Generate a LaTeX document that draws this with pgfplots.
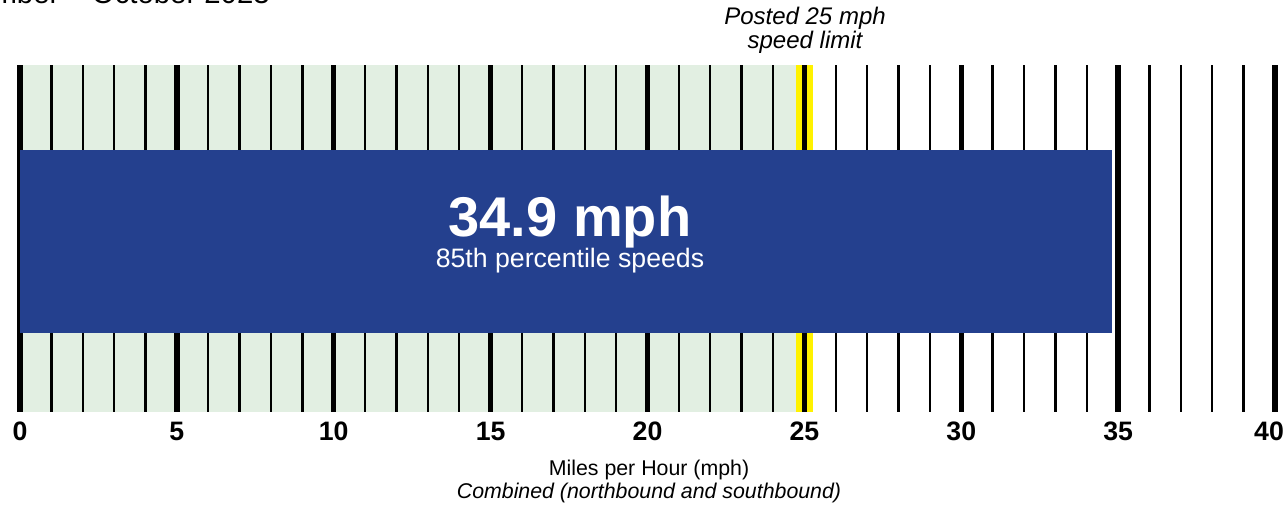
\documentclass[border=0pt]{standalone}
\usepackage{pgfplots}
\pgfplotsset{compat=1.18}
\usepackage{fontspec}
\setmainfont{Liberation Sans}
\definecolor{barblue}{RGB}{36,64,142}
\definecolor{lightgreen}{RGB}{226,239,226}
\definecolor{limityellow}{RGB}{255,242,0}
\begin{document}
\begin{tikzpicture}
\useasboundingbox (0,0) rectangle (966pt,379.5pt);
\clip (0,0) rectangle (966pt,379.5pt);
\node[anchor=base east, inner sep=0pt, font=\fontsize{22}{26}\selectfont] at (202.5pt,376.5pt) {September – October 2023};
\begin{axis}[
  at={(15pt,70.5pt)}, anchor=south west,
  scale only axis, width=941.25pt, height=260.25pt,
  xmin=0, xmax=40, ymin=0, ymax=1,
  axis line style={draw=none},
  tick style={draw=none},
  xtick={0,5,...,40}, ytick=\empty,
  xticklabels={0,5,10,15,20,25,30,35,\kern-9pt 40},
  /pgf/number format/assume math mode=true,
  xticklabel style={font=\fontsize{20}{24}\selectfont\bfseries, anchor=base, yshift=-21.75pt},
  clip=false,
]
\addplot[draw=none, fill=lightgreen] coordinates {(0,0)(24.72,0)(24.72,1)(0,1)} -- cycle;
\addplot[draw=none, fill=limityellow] coordinates {(24.72,0)(25.28,0)(25.28,1)(24.72,1)} -- cycle;
\addplot[ycomb, black, line width=1.8pt, mark=none] coordinates {
 (1,1)(2,1)(3,1)(4,1)(6,1)(7,1)(8,1)(9,1)(11,1)(12,1)(13,1)(14,1)
 (16,1)(17,1)(18,1)(19,1)(21,1)(22,1)(23,1)(24,1)(26,1)(27,1)(28,1)(29,1)
 (31,1)(32,1)(33,1)(34,1)(36,1)(37,1)(38,1)(39,1)};
\addplot[ycomb, black, line width=4pt, mark=none] coordinates {
 (0,1)(5,1)(10,1)(15,1)(20,1)(25,1)(30,1)(35,1)(40,1)};
\addplot[draw=none, fill=barblue] coordinates {(0,0.229)(34.8,0.229)(34.8,0.756)(0,0.756)} -- cycle;
\end{axis}
\node[anchor=base, inner sep=0pt, text=white, font=\fontsize{42}{48}\selectfont\bfseries] at (427.5pt,201.75pt) {34.9 mph};
\node[anchor=base, inner sep=0pt, text=white, font=\fontsize{20}{24}\selectfont] at (427.5pt,178.5pt) {85th percentile speeds};
\node[anchor=base, inner sep=0pt, font=\fontsize{18}{22}\selectfont\itshape] at (603.75pt,360.75pt) {Posted 25 mph};
\node[anchor=base, inner sep=0pt, font=\fontsize{18}{22}\selectfont\itshape] at (603.75pt,342.75pt) {speed limit};
\node[anchor=base, inner sep=0pt, font=\fontsize{16}{19}\selectfont] at (486.75pt,22.5pt) {Miles per Hour (mph)};
\node[anchor=base, inner sep=0pt, font=\fontsize{16}{19}\selectfont\itshape] at (486.75pt,5.25pt) {Combined (northbound and southbound)};
\end{tikzpicture}
\end{document}
